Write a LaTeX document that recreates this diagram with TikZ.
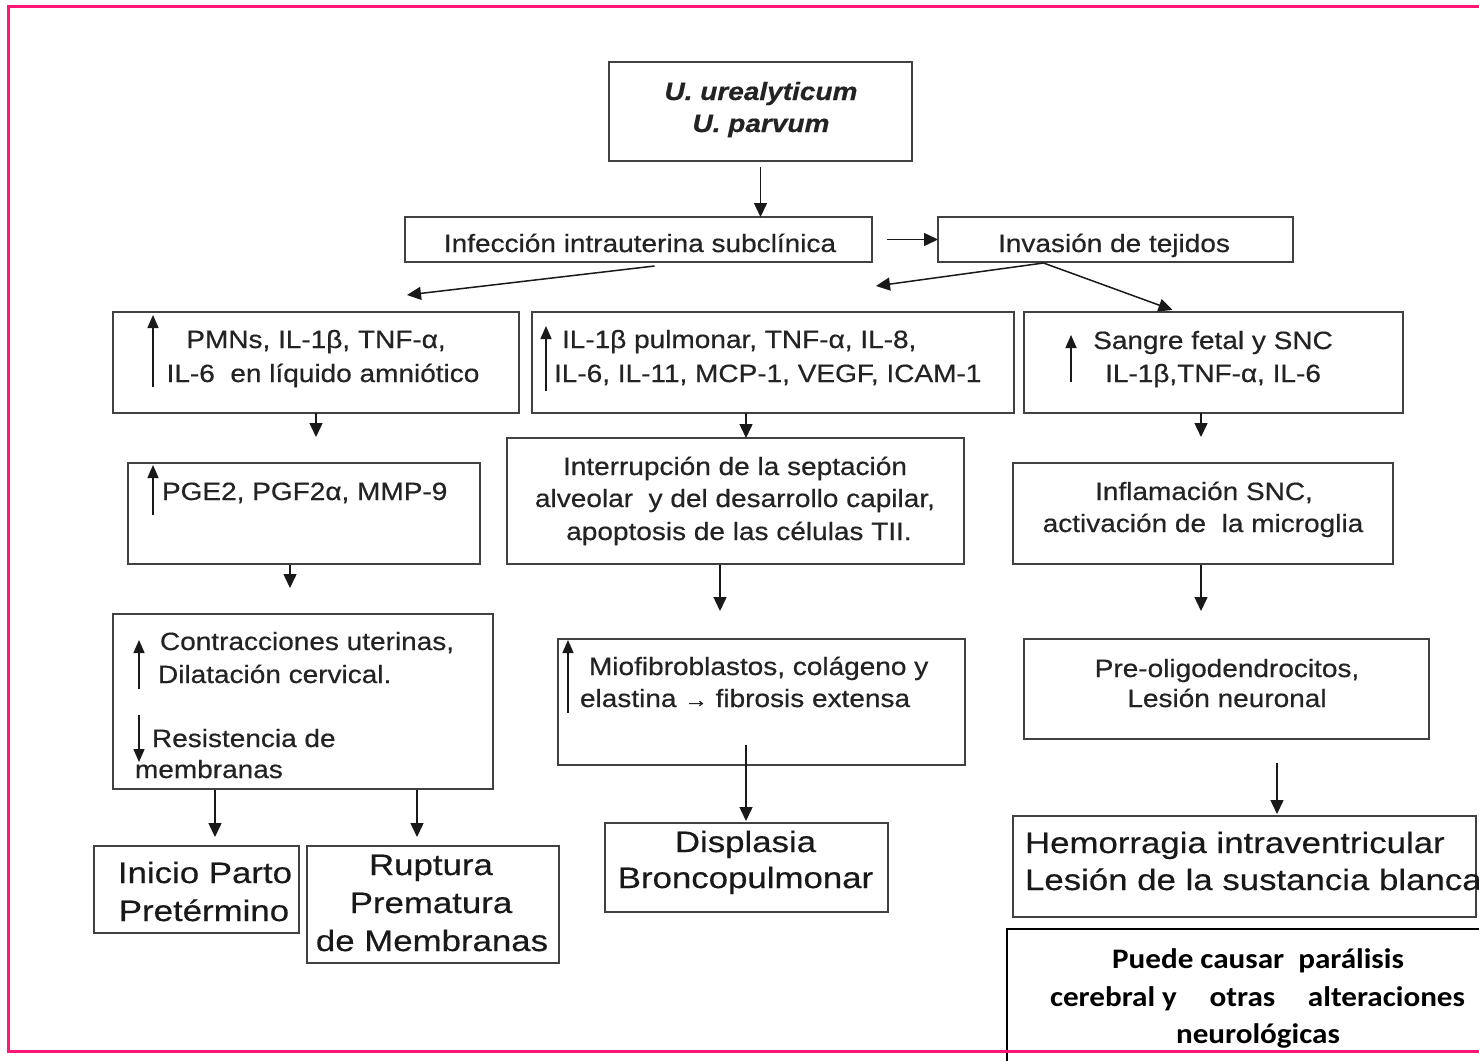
\documentclass[tikz,border=0pt]{standalone}
\usepackage{fontspec}
\usetikzlibrary{arrows.meta,calc}
\newfontfamily\arialw[FakeStretch=1.12,FakeBold=0.5]{Liberation Sans}
\newfontfamily\arialbig[FakeStretch=1.18,FakeBold=0.4]{Liberation Sans}
\newfontfamily\calibw[FakeStretch=1.1]{Carlito}
\definecolor{pinkf}{RGB}{255,22,118}
\definecolor{ink}{RGB}{35,35,35}
\definecolor{edge}{RGB}{65,65,65}
\begin{document}
\begin{tikzpicture}[x=1pt,y=-1pt,
  box/.style={draw=edge,line width=1.7pt,rectangle,inner sep=0pt,outer sep=0pt},
  txt/.style={inner sep=0pt,outer sep=0pt,text=ink,font=\arialw\fontsize{25}{30}\selectfont},
  big/.style={inner sep=0pt,outer sep=0pt,text=black!90,font=\arialbig\fontsize{29.5}{36}\selectfont},
  cal/.style={inner sep=0pt,outer sep=0pt,text=black,font=\calibw\bfseries\fontsize{28.3}{32}\selectfont},
  arr/.style={draw=black!90,line width=1.5pt,-{Triangle[length=14pt,width=13pt]}},
  ind/.style={draw=black!90,line width=1.5pt,-{Triangle[length=13pt,width=11pt]}}]
\useasboundingbox (0,0) rectangle (1479,1060);
\fill[white] (0,0) rectangle (1479,1060);

% boxes
\node[box,minimum width=303,minimum height=99] (top) at (760.5,111.5) {};
\node[box,minimum width=467,minimum height=45] (inf) at (638.5,239.5) {};
\node[box,minimum width=355,minimum height=45] (inv) at (1115.5,239.5) {};
\node[box,minimum width=406,minimum height=101] (l1) at (316,362.5) {};
\node[box,minimum width=482,minimum height=101] (m1) at (773,362.5) {};
\node[box,minimum width=379,minimum height=101] (r1) at (1213.5,362.5) {};
\node[box,minimum width=352,minimum height=101] (l2) at (304,513.5) {};
\node[box,minimum width=457,minimum height=126] (m2) at (735.5,501) {};
\node[box,minimum width=380,minimum height=101] (r2) at (1203,513.5) {};
\node[box,minimum width=380,minimum height=175] (l3) at (303,701.5) {};
\node[box,minimum width=407,minimum height=126] (m3) at (761.5,702) {};
\node[box,minimum width=405,minimum height=100] (r3) at (1226.5,689) {};
\node[box,minimum width=205,minimum height=87] (b1) at (196.5,889.5) {};
\node[box,minimum width=252,minimum height=117] (b2) at (433,904.5) {};
\node[box,minimum width=283,minimum height=89] (b3) at (746.5,867.5) {};
\node[box,minimum width=463,minimum height=101] (b4) at (1244.5,866.5) {};
\node[draw=black,line width=1.5pt,rectangle,inner sep=0pt,minimum width=476,minimum height=135] (b5) at (1245,996.5) {};

% texts
\node[txt,anchor=base,font=\arialw\bfseries\itshape\fontsize{25}{30}\selectfont] (ta1) at (761,100) {U. urealyticum};
\node[txt,anchor=base,font=\arialw\bfseries\itshape\fontsize{25}{30}\selectfont] (ta2) at (761,132) {U. parvum};
\node[txt,anchor=base] (tb) at (640,252) {Infección intrauterina subclínica};
\node[txt,anchor=base] (tc) at (1114,252) {Invasión de tejidos};
\node[txt,anchor=base] (td1) at (316,348) {PMNs, IL-1β, TNF-α,};
\node[txt,anchor=base] (td2) at (323,382) {IL-6\ \ en líquido amniótico};
\node[txt,anchor=base west] (te1) at (562,348) {IL-1β pulmonar, TNF-α, IL-8,};
\node[txt,anchor=base west] (te2) at (554,382) {IL-6, IL-11, MCP-1, VEGF, ICAM-1};
\node[txt,anchor=base] (tf1) at (1213,349) {Sangre fetal y SNC};
\node[txt,anchor=base] (tf2) at (1213,382) {IL-1β,TNF-α, IL-6};
\node[txt,anchor=base west] (tg) at (162,500) {PGE2, PGF2α, MMP-9};
\node[txt,anchor=base] (th1) at (735,475) {Interrupción de la septación};
\node[txt,anchor=base] (th2) at (735,507) {alveolar\ \ y del desarrollo capilar,};
\node[txt,anchor=base] (th3) at (739,540) {apoptosis de las células TII.};
\node[txt,anchor=base] (ti1) at (1204,500) {Inflamación SNC,};
\node[txt,anchor=base] (ti2) at (1203,532) {activación de\ \ la microglia};
\node[txt,anchor=base west] (tj1) at (160,650) {Contracciones uterinas,};
\node[txt,anchor=base west] (tj2) at (158,683) {Dilatación cervical.};
\node[txt,anchor=base west] (tj3) at (152,747) {Resistencia de};
\node[txt,anchor=base west] (tj4) at (135,778) {membranas};
\node[txt,anchor=base west] (tk1) at (589,675) {Miofibroblastos, colágeno y};
\node[txt,anchor=base west] (tk2) at (580,707) {elastina {\fontsize{21}{21}\selectfont →} fibrosis extensa};
\node[txt,anchor=base] (tl1) at (1227,677) {Pre-oligodendrocitos,};
\node[txt,anchor=base] (tl2) at (1227,707) {Lesión neuronal};
\node[big,anchor=base] (tm1) at (205,883) {Inicio Parto};
\node[big,anchor=base] (tm2) at (204,921) {Pretérmino};
\node[big,anchor=base] (tn1) at (431,875) {Ruptura};
\node[big,anchor=base] (tn2) at (431,913) {Prematura};
\node[big,anchor=base] (tn3) at (432,951) {de Membranas};
\node[big,anchor=base] (to1) at (745.5,852) {Displasia};
\node[big,anchor=base] (to2) at (745.5,888) {Broncopulmonar};
\node[big,anchor=base west] (tp1) at (1025,853) {Hemorragia intraventricular};
\node[big,anchor=base west] (tp2) at (1025,890) {Lesión de la sustancia blanca};
\node[cal,anchor=base] (tq1) at (1258,968) {Puede causar\ \ parálisis};
\node[cal,anchor=base] (tq2) at (1257.5,1006) {\hbox to 415pt{cerebral y\hfill otras\hfill alteraciones}};
\node[cal,anchor=base] (tq3) at (1258,1043) {neurológicas};

% indicator arrows
\draw[ind] (153,387) -- (153,315);
\draw[ind] (546,391) -- (546,326);
\draw[ind] (1071,382) -- (1071,335);
\draw[ind] (153,515) -- (153,465);
\draw[ind] (139,689) -- (139,640);
\draw[ind] (139,715) -- (139,762);
\draw[ind] (568,713) -- (568,640);

% connectors
\draw[arr,shorten <=6pt] (top.south) -- (top.south |- inf.north);
\draw[arr,shorten <=15pt] (inf.east) -- (inv.west);
\draw[arr] ($(inf.south)+(16,4)$) -- ($(l1.north)+(91,-17)$);
\draw[arr] ($(inv.south)+(-72,1)$) -- ($(m1.north)+(103,-26)$);
\draw[arr] ($(inv.south)+(-72,1)$) -- ($(r1.north)+(-41,-2)$);
\draw[arr] (l1.south) -- ($(l1.south)+(0,24)$);
\draw[arr] ($(m1.south)+(-27,0)$) -- ($(m2.north)+(10.5,0)$);
\draw[arr] ($(r1.south)+(-12.5,0)$) -- ($(r2.north)+(-2,-26)$);
\draw[arr] ($(l2.south)+(-14,1)$) -- ($(l3.north)+(-13,-26)$);
\draw[arr] ($(m2.south)+(-15.5,1)$) -- ($(m3.north)+(-41.5,-28)$);
\draw[arr] ($(r2.south)+(-2,1)$) -- ($(r3.north)+(-25.5,-28)$);
\draw[arr] ($(l3.south)+(-88,1)$) -- ($(b1.north)+(18.5,-9)$);
\draw[arr] ($(l3.south)+(114,1)$) -- ($(b2.north)+(-16,-9)$);
\draw[arr] ($(m3.south)+(-15.5,-20)$) -- ($(b3.north)+(-0.5,-2)$);
\draw[arr] ($(r3.south)+(50.5,24)$) -- ($(b4.north)+(32.5,-2)$);

% pink frame
\draw[pinkf,line width=3pt] (1490,6) -- (8.5,6) -- (8.5,1051) -- (1490,1051);
\end{tikzpicture}
\end{document}
